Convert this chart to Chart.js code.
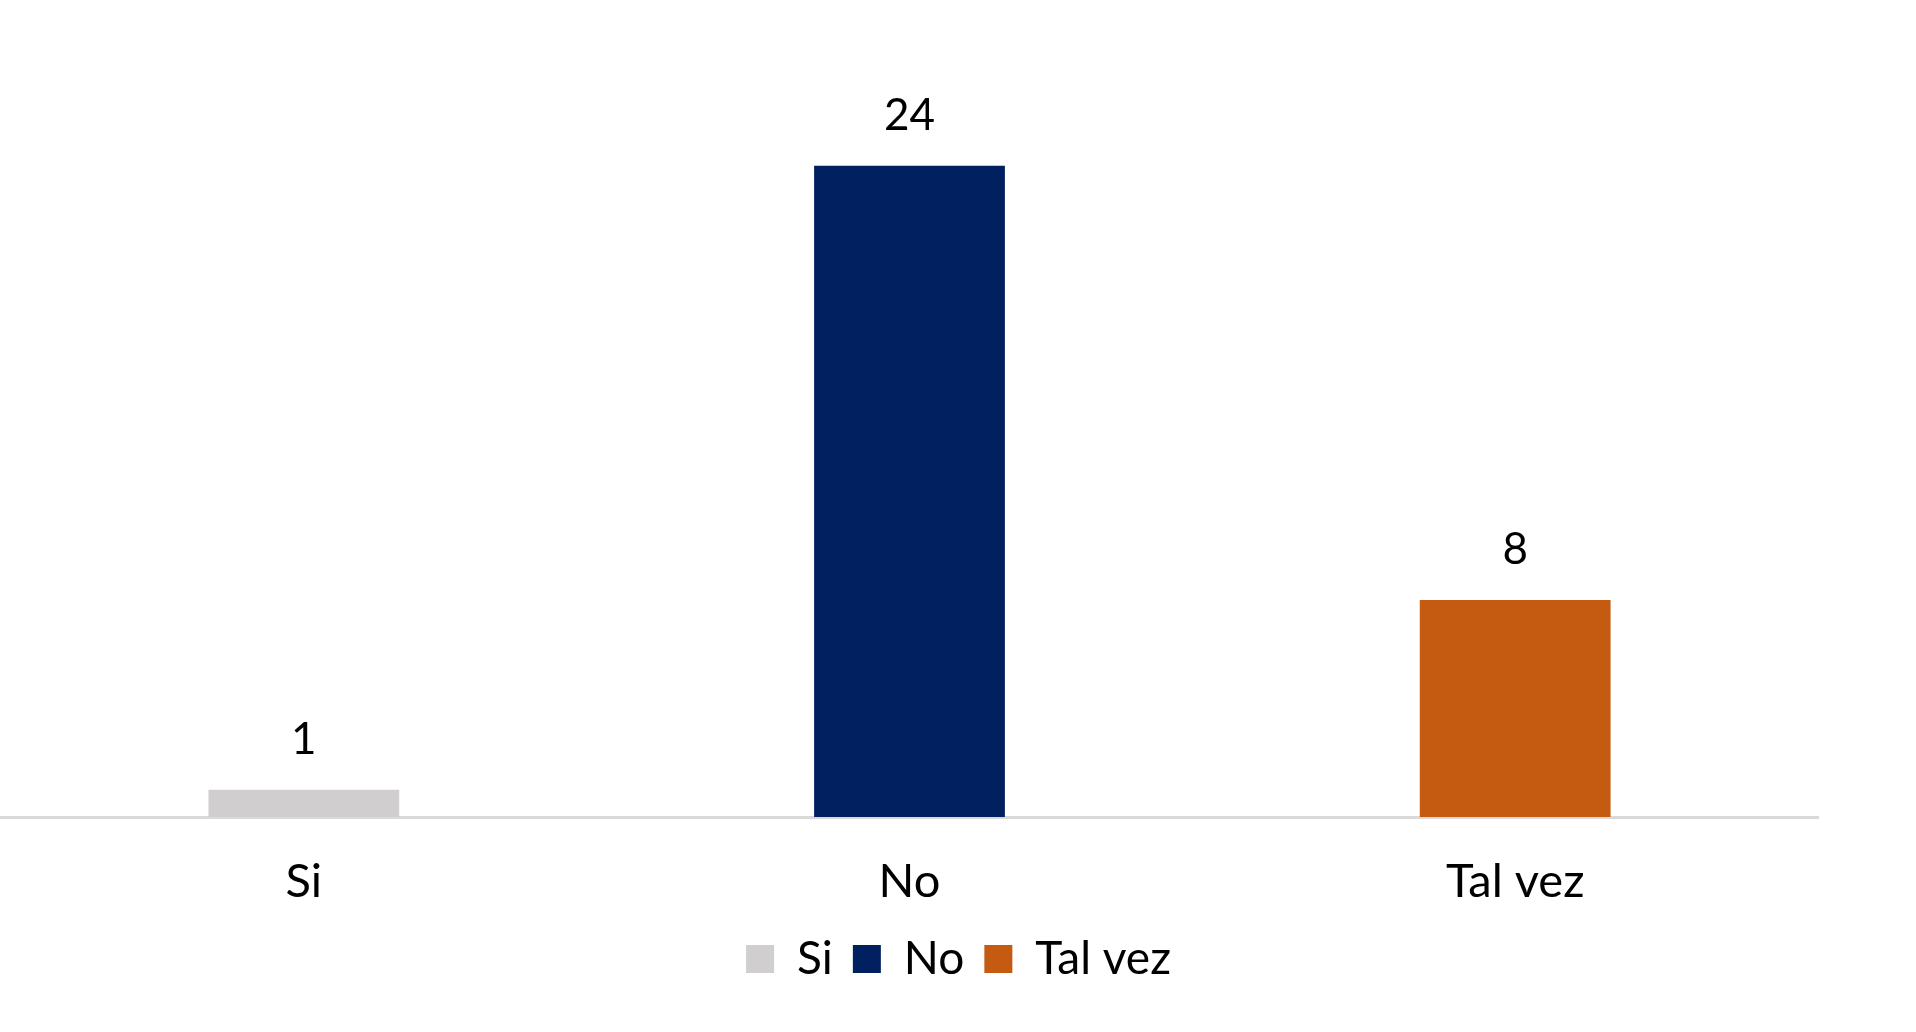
<!DOCTYPE html>
<html>
<head>
<meta charset="utf-8">
<script src="https://cdn.jsdelivr.net/npm/chart.js@4"></script>
<style>
  html, body { margin: 0; padding: 0; background: #fff; }
  #wrap { width: 1916px; height: 1032px; }
</style>
</head>
<body>
<div id="wrap"><canvas id="c"></canvas></div>
<script>
const categories = ["Si", "No", "Tal vez"];
const values = [1, 24, 8];
const barColors = ["#d0cecf", "#002060", "#c55a11"];

const FONT = "Lato, 'Open Sans', sans-serif";

const valueLabels = {
  id: 'valueLabels',
  afterDatasetsDraw(chart) {
    const ctx = chart.ctx;
    const meta = chart.getDatasetMeta(0);
    ctx.save();
    ctx.fillStyle = '#000';
    ctx.font = '44px ' + FONT;
    ctx.textAlign = 'center';
    ctx.textBaseline = 'middle';
    meta.data.forEach((bar, i) => {
      ctx.fillText(String(values[i]), bar.x, bar.y - 50);
    });
    ctx.restore();
  }
};

new Chart(document.getElementById('c'), {
  type: 'bar',
  data: {
    labels: categories,
    datasets: [{
      label: 'Serie',
      data: values,
      backgroundColor: barColors,
      borderWidth: 0,
      categoryPercentage: 1,
      barPercentage: 0.315
    }]
  },
  options: {
    responsive: true,
    maintainAspectRatio: false,
    animation: false,
    layout: { padding: { left: 1, right: 0, top: 3, bottom: 40 } },
    scales: {
      x: {
        grid: { display: false },
        border: { display: true, color: '#d9d9d9', width: 3 },
        ticks: { color: '#000', font: { size: 47, family: FONT, lineHeight: 0.11 }, padding: 54 },
        afterFit(scale) { scale.height = 99; }
      },
      y: {
        position: 'right',
        display: true,
        min: 0,
        max: 30,
        grid: { display: false },
        border: { display: false },
        ticks: { display: false },
        afterFit(scale) { scale.width = 98; }
      }
    },
    plugins: {
      tooltip: { enabled: false },
      legend: {
        position: 'bottom',
        labels: {
          color: '#000',
          font: { size: 46, family: FONT },
          boxWidth: 28,
          boxHeight: 28,
          padding: 20,
          generateLabels(chart) {
            return categories.map((c, i) => ({
              text: c,
              fillStyle: barColors[i],
              strokeStyle: barColors[i],
              lineWidth: 0,
              hidden: false,
              index: i
            }));
          }
        }
      }
    }
  },
  plugins: [valueLabels]
});
</script>
</body>
</html>
